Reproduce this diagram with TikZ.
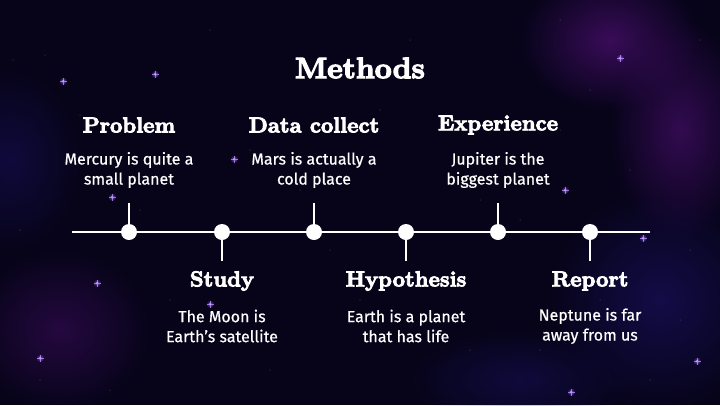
\documentclass[tikz,border=0pt]{standalone}
\usepackage{fontspec}
\setmainfont{Fira Sans}
\newfontface\headfont{lmroman10-bold.otf}[FakeBold=4]
\newfontface\bodyfont{Fira Sans}[FakeBold=0.6]
\usetikzlibrary{fadings}
\definecolor{spacebg}{HTML}{07041A}
\definecolor{nebula}{HTML}{4A0F6E}
\definecolor{nebulablue}{HTML}{1C1266}
\definecolor{starviolet}{HTML}{9B5CFF}
\tikzfading[name=softglow, inner color=transparent!0, outer color=transparent!100]
\tikzset{
  title/.style={text=white, font=\headfont\fontsize{29.5}{32}\selectfont},
  heading/.style={text=white, font=\headfont\fontsize{21.6}{24}\selectfont},
  body/.style={text=white, align=center, font=\bodyfont\fontsize{16}{20}\selectfont},
  dot/.style={circle, fill=white, minimum size=16pt, inner sep=0pt},
  axis/.style={draw=white, line width=1.3pt},
  tick/.style={draw=white, line width=1.2pt},
  glow/.style={fill=#1, path fading=softglow},
}
\newcommand{\spark}[2]{%
  \fill[starviolet, path fading=softglow, opacity=0.8] (#1,#2) circle (4pt);
  \draw[starviolet!70!white, line width=0.4pt, opacity=0.8] (#1-3.5,#2) -- (#1+3.5,#2) (#1,#2-3.5) -- (#1,#2+3.5);
  \fill[white!60!starviolet] (#1,#2) circle (0.8pt);}
\begin{document}
\begin{tikzpicture}[x=1pt, y=-1pt]
  \useasboundingbox (0,0) rectangle (720,405);
  % deep space background
  \fill[spacebg] (0,0) rectangle (720,405);
  \begin{scope}
    \clip (0,0) rectangle (720,405);
    \fill[glow=nebula, opacity=0.75] (610,40) ellipse (90 and 70);
    \fill[glow=nebula, opacity=0.65] (680,130) ellipse (70 and 110);
    \fill[glow=nebulablue, opacity=0.6] (660,300) ellipse (110 and 110);
    \fill[glow=nebulablue, opacity=0.45] (520,380) ellipse (110 and 50);
    \fill[glow=nebula, opacity=0.45] (60,330) ellipse (90 and 80);
    \fill[glow=nebulablue, opacity=0.45] (10,160) ellipse (70 and 90);
  \end{scope}
  % faint stars
  \foreach \sx/\sy in {45/55,13/60,80/115,140/210,210/30,250/150,300/190,330/250,380/110,
      430/280,470/350,520/220,560/130,600/300,650/380,690/250,700/40,40/380,110/390,
      270/370,360/300,410/40,560/20,630/170,680/320,20/230,170/300,480/200,540/350,590/90}
    \fill[white, opacity=0.35] (\sx,\sy) circle (0.5pt);
  % violet sparkles
  \spark{155}{74} \spark{63}{81} \spark{112}{197} \spark{234}{159}
  \spark{210}{304} \spark{97}{283} \spark{40}{358} \spark{620}{58}
  \spark{565}{190} \spark{643}{238} \spark{697}{361} \spark{571}{392}
  % title
  \node[title] (ttl) at (360,68) {Methods};
  % timeline
  \coordinate (lstart) at (72,232);
  \coordinate (lend) at (650,232);
  \draw[axis] (lstart) -- (lend);
  \foreach \n/\px in {p1/129, p2/222, p3/314, p4/406, p5/498, p6/590}
    \node[dot] (\n) at (\px,232) {};
  % ticks
  \coordinate (t1) at (129,203);
  \coordinate (t2) at (222,261);
  \coordinate (t3) at (314,203);
  \coordinate (t4) at (406,261);
  \coordinate (t5) at (498,203);
  \coordinate (t6) at (590,261);
  \foreach \i in {1,...,6} \draw[tick] (p\i) -- (t\i);
  % upper steps
  \node[heading] (h1) at (129,125) {Problem};
  \node[body] (b1) at (129,170) {Mercury is quite a\\small planet};
  \node[heading] (h3) at (314,125) {Data collect};
  \node[body] (b3) at (314,170) {Mars is actually a\\cold place};
  \node[heading] (h5) at (498,125) {Experience};
  \node[body] (b5) at (498,170) {Jupiter is the\\biggest planet};
  % lower steps
  \node[heading] (h2) at (222,281) {Study};
  \node[body] (b2) at (222,326) {The Moon is\\Earth’s satellite};
  \node[heading] (h4) at (406,281) {Hypothesis};
  \node[body] (b4) at (406,326) {Earth is a planet\\that has life};
  \node[heading] (h6) at (590,281) {Report};
  \node[body] (b6) at (590,326) {Neptune is far\\away from us};
\end{tikzpicture}
\end{document}
